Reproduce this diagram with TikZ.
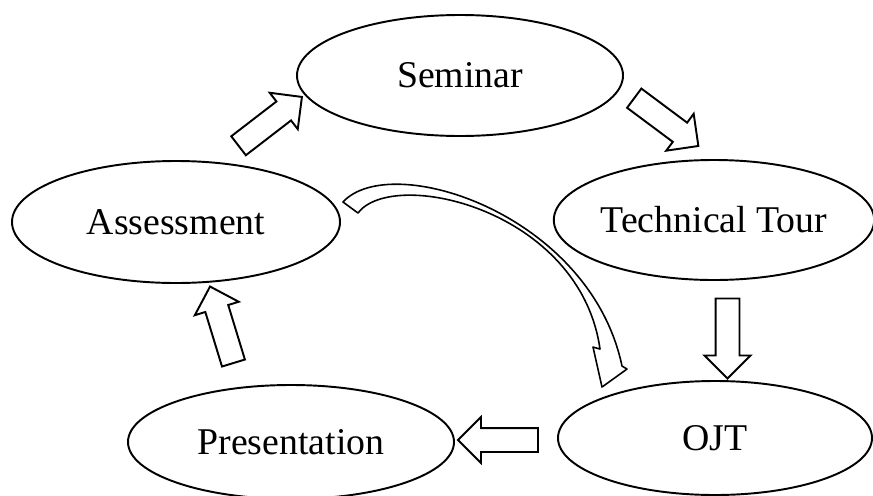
\documentclass[tikz,border=0pt]{standalone}
\usepackage{fontspec}
\setmainfont{Liberation Serif}
\usepackage{tikz}
\usetikzlibrary{shapes.geometric,shapes.arrows,calc}

\begin{document}
\begin{tikzpicture}[x=0.2mm,y=0.2mm,
    stage/.style={draw,ellipse,line width=1.1pt,inner sep=0pt,
      font=\fontsize{21.5}{25}\selectfont},
    blockarrow/.style={draw,single arrow,fill=white,line width=1.1pt,
      inner xsep=0pt,inner ysep=2.2mm,minimum height=16mm,minimum width=8.8mm,
      single arrow head extend=2.2mm}]
  \useasboundingbox (0,0) rectangle (873,495);

  % the five stages
  \node[stage,minimum width=65.2mm,minimum height=24.2mm] (sem) at (460,419.5) {Seminar};
  \node[stage,minimum width=65.6mm,minimum height=24.4mm] (ass) at (176,273) {Assessment};
  \node[stage,minimum width=62.8mm,minimum height=24mm] (tech) at (714,275) {Technical Tour};
  \node[stage,minimum width=62.8mm,minimum height=22.8mm] (ojt) at (715,57) {OJT};
  \node[stage,minimum width=65.2mm,minimum height=22.8mm] (pres) at (291,53) {Presentation};

  % hollow arrows round the cycle
  \foreach \name/\pos/\ang in {a2s/{265.5,370}/37.6, s2t/{661.5,376.5}/-36.7,
      t2o/{727.5,162.5}/-90, o2p/{504,55}/180, p2a/{223.5,164.5}/107}
    \node[blockarrow,rotate=\ang] (\name) at (\pos) {};

  % curved arrow from assessment back down to ojt
  \coordinate (tailo) at ($(ass.east)+(2,20)$);
  \coordinate (taili) at ($(ass.east)+(17,9)$);
  \coordinate (rnotch) at ($(ojt.north)+(-93,14)$);
  \coordinate (rcorner) at ($(ojt.north)+(-88,11)$);
  \coordinate (tip) at ($(ojt.north)+(-113,-7)$);
  \coordinate (lcorner) at ($(ojt.north)+(-122,33)$);
  \coordinate (lnotch) at ($(ojt.north)+(-115,31)$);
  \draw[fill=white,line width=0.9pt,line join=round]
    (tailo) .. controls +(48,52) and +(-32,152) .. (rnotch)
    -- (rcorner) -- (tip) -- (lcorner) -- (lnotch)
    .. controls +(-20,140) and +(35,46) .. (taili) -- cycle;
\end{tikzpicture}
\end{document}
